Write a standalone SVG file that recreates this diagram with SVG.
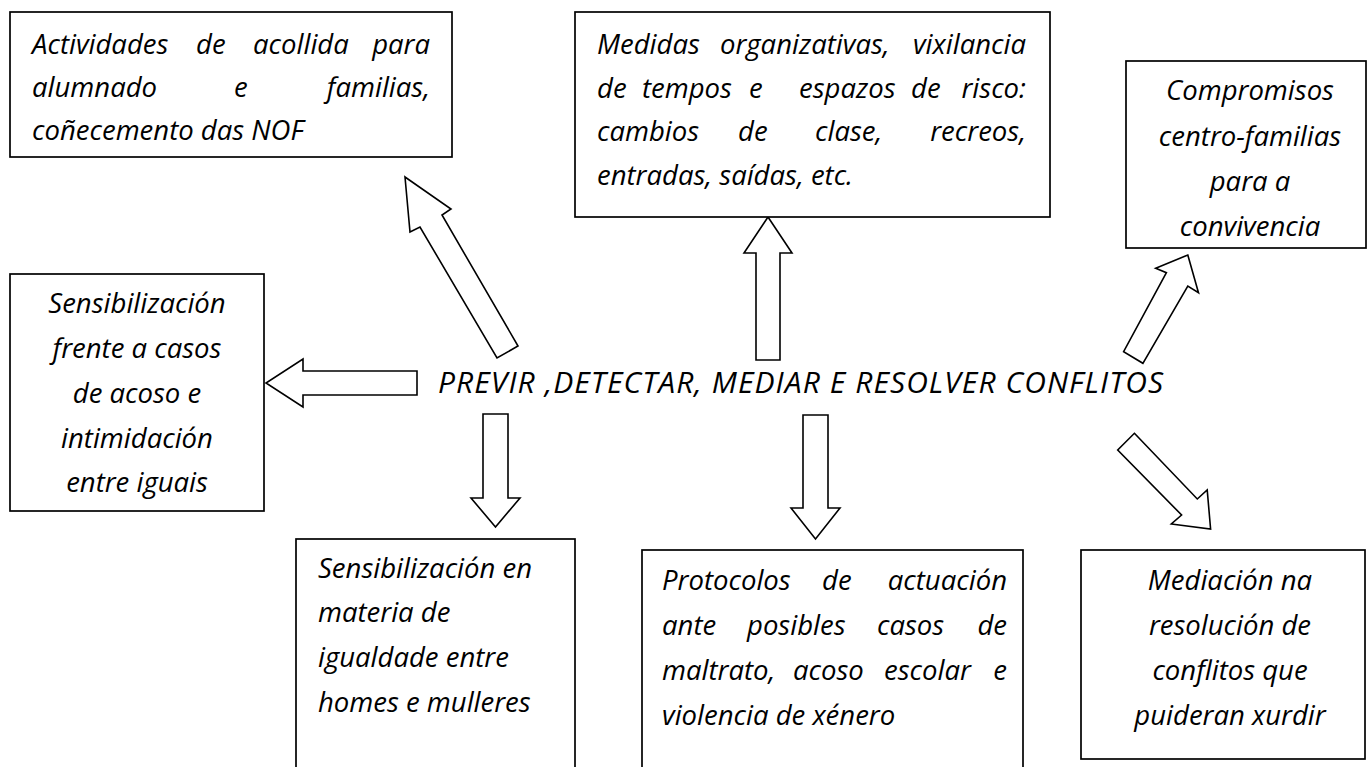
<svg xmlns="http://www.w3.org/2000/svg" width="1371" height="767" viewBox="0 0 1371 767">
<style>
.box{fill:#fff;stroke:#000;stroke-width:1.7}
.arr{fill:#fff;stroke:#000;stroke-width:1.6;stroke-linejoin:miter}
text{font-family:"Comic Sans MS","Open Sans","DejaVu Sans",sans-serif;font-style:italic;font-size:27.5px;fill:#000}
.c{text-anchor:middle}
.e{text-anchor:end}
.main{font-size:30px}
</style>
<rect width="1371" height="767" fill="#fff"/>
<g id="connectors">
<polygon class="arr" points="417,371 303,371 303,359 266,383 303,407 303,395 417,395"/>
<polygon class="arr" points="405,177 451,209 442,215 518,346 497,358 420,227 410,232"/>
<polygon class="arr" points="768,217 792,253 780,253 780,360 756,360 756,253 744,253"/>
<polygon class="arr" points="1187.8,255 1198.5,292.7 1187.8,286 1142.9,363.3 1123.6,351.7 1166.4,272.7 1155.7,268.3"/>
<polygon class="arr" points="483,414 508,414 508,498 520,498 495.5,527 471,498 483,498"/>
<polygon class="arr" points="803,415 828,415 828,508 840,508 815.5,539 791,508 803,508"/>
<polygon class="arr" points="1134.4,433.3 1197.3,499 1207.2,490 1210.6,529 1171.3,524 1181.6,515 1117.7,450"/>
</g>
<g id="center">
<text class="main" x="438" y="393" textLength="725" lengthAdjust="spacing">PREVIR ,DETECTAR, MEDIAR E RESOLVER CONFLITOS</text>
</g>
<g id="acollida">
<rect class="box" x="10" y="12" width="442" height="145"/>
<text y="54"><tspan x="32">Actividades</tspan> <tspan x="196">de</tspan> <tspan x="253">acollida</tspan> <tspan x="430" class="e">para</tspan></text>
<text y="97"><tspan x="32">alumnado</tspan> <tspan x="234">e</tspan> <tspan x="430" class="e">familias,</tspan></text>
<text x="32" y="140">coñecemento das NOF</text>
</g>
<g id="medidas">
<rect class="box" x="575" y="12" width="475" height="205"/>
<text y="54"><tspan x="597">Medidas</tspan> <tspan x="720">organizativas,</tspan> <tspan x="1026" class="e">vixilancia</tspan></text>
<text y="97.5"><tspan x="597">de</tspan> <tspan x="642">tempos</tspan> <tspan x="749">e</tspan>  <tspan x="799">espazos</tspan> <tspan x="911">de</tspan> <tspan x="1026" class="e">risco:</tspan></text>
<text y="141"><tspan x="597">cambios</tspan> <tspan x="738">de</tspan> <tspan x="815">clase,</tspan> <tspan x="1026" class="e">recreos,</tspan></text>
<text x="597" y="184.5">entradas, saídas, etc.</text>
</g>
<g id="compromisos">
<rect class="box" x="1126" y="61" width="240" height="187"/>
<text class="c" x="1250" y="100">Compromisos</text>
<text class="c" x="1250" y="146">centro-familias</text>
<text class="c" x="1250" y="191">para a</text>
<text class="c" x="1250" y="236">convivencia</text>
</g>
<g id="acoso">
<rect class="box" x="10" y="274" width="254" height="237"/>
<text class="c" x="137" y="313">Sensibilización</text>
<text class="c" x="137" y="358">frente a casos</text>
<text class="c" x="137" y="403">de acoso e</text>
<text class="c" x="137" y="448">intimidación</text>
<text class="c" x="137" y="492">entre iguais</text>
</g>
<g id="igualdade">
<rect class="box" x="296" y="539" width="279" height="240"/>
<text x="318" y="578">Sensibilización en</text>
<text x="318" y="622">materia de</text>
<text x="318" y="667">igualdade entre</text>
<text x="318" y="712">homes e mulleres</text>
</g>
<g id="protocolos">
<rect class="box" x="642" y="550" width="381" height="230"/>
<text y="590"><tspan x="662">Protocolos</tspan> <tspan x="822">de</tspan> <tspan x="1007" class="e">actuación</tspan></text>
<text y="635"><tspan x="662">ante</tspan> <tspan x="747">posibles</tspan> <tspan x="877">casos</tspan> <tspan x="1007" class="e">de</tspan></text>
<text y="680"><tspan x="662">maltrato,</tspan> <tspan x="793">acoso</tspan> <tspan x="884">escolar</tspan> <tspan x="1007" class="e">e</tspan></text>
<text x="662" y="725">violencia de xénero</text>
</g>
<g id="mediacion">
<rect class="box" x="1081" y="550" width="284" height="209"/>
<text class="c" x="1230" y="590">Mediación na</text>
<text class="c" x="1230" y="635">resolución de</text>
<text class="c" x="1230" y="680">conflitos que</text>
<text class="c" x="1230" y="725">puideran xurdir</text>
</g>
</svg>
